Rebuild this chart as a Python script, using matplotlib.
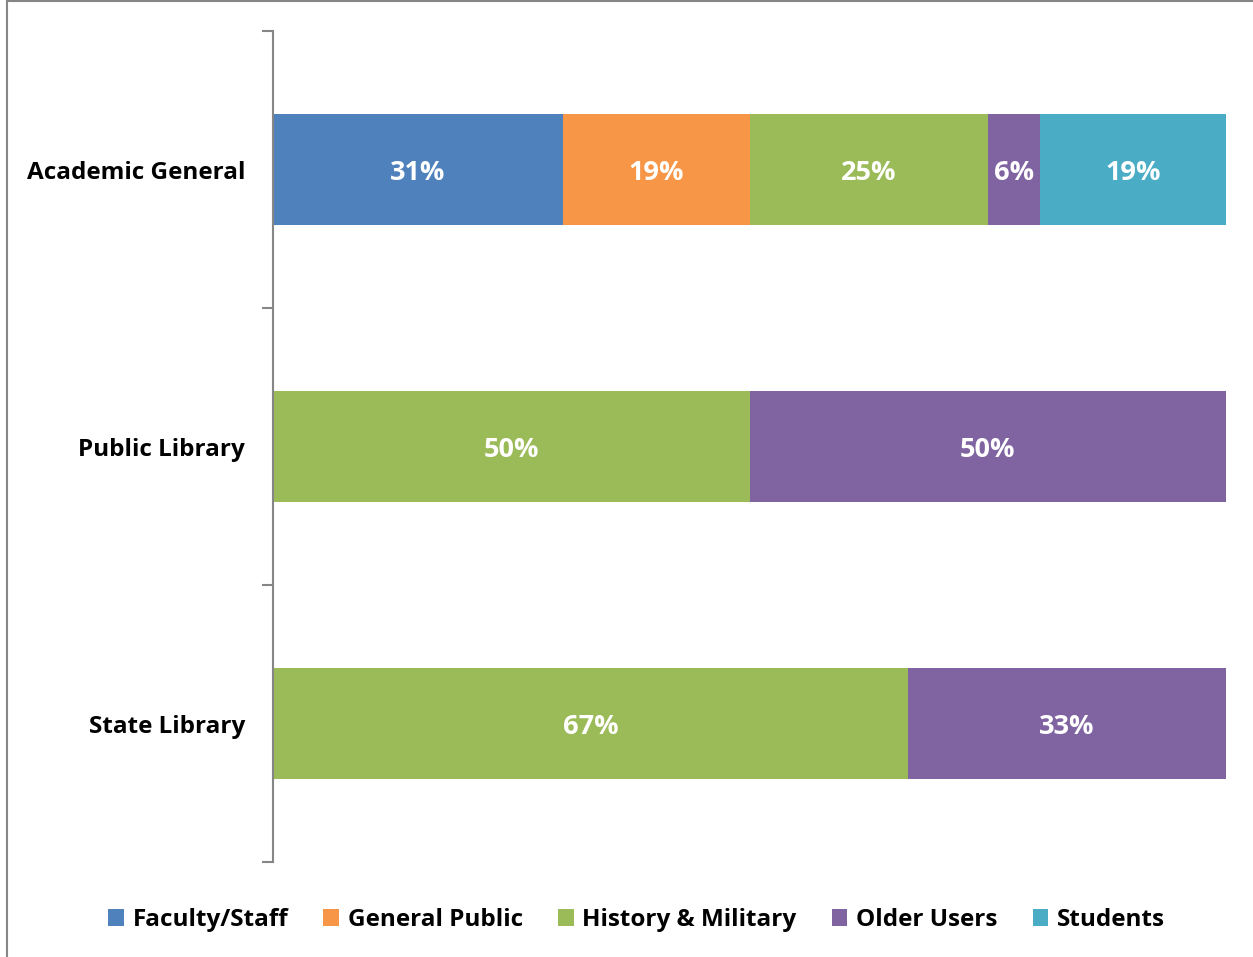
import matplotlib.pyplot as plt
import numpy as np
from matplotlib.patches import Patch, Rectangle

plt.rcParams["font.family"] = ["Open Sans", "DejaVu Sans"]
plt.rcParams["font.weight"] = "bold"

# Data (bar lengths, labels as printed)
categories = ["Academic General", "Public Library", "State Library"]
series = ["Faculty/Staff", "General Public", "History & Military", "Older Users", "Students"]
faculty_staff = [30.4, 0, 0]
general_public = [19.6, 0, 0]
history_military = [25.0, 50, 66.6]
older_users = [5.5, 50, 33.4]
students = [19.5, 0, 0]
faculty_staff_lbl = ["31%", "", ""]
general_public_lbl = ["19%", "", ""]
history_military_lbl = ["25%", "50%", "67%"]
older_users_lbl = ["6%", "50%", "33%"]
students_lbl = ["19%", "", ""]
colors = ["#4F81BD", "#F79646", "#9BBB59", "#8064A2", "#4BACC6"]

values = [faculty_staff, general_public, history_military, older_users, students]
labels = [faculty_staff_lbl, general_public_lbl, history_military_lbl, older_users_lbl, students_lbl]

fig = plt.figure(figsize=(12.53, 9.57), dpi=100)
ax = fig.add_axes([273 / 1253, 1 - 862 / 957, (1226 - 273) / 1253, (862 - 31) / 957])

y = np.arange(len(categories))
left = np.zeros(len(categories))
for vals, lbls, name, col in zip(values, labels, series, colors):
    vals = np.array(vals, dtype=float)
    ax.barh(y, vals, left=left, height=0.404, color=col, label=name)
    for yi, (v, l, t) in enumerate(zip(vals, left, lbls)):
        if t:
            ax.text(l + v / 2, yi, t, ha="center", va="center_baseline",
                    color="white", fontsize=19.5, fontweight="bold")
    left += vals

ax.set_xlim(0, 100)
ax.set_ylim(2.5, -0.5)
ax.set_yticks(y)
ax.set_yticklabels(categories, fontsize=17.5, fontweight="bold")
ax.set_yticks([-0.5, 0.5, 1.5, 2.5], minor=True)
ax.tick_params(axis="y", which="major", length=0, pad=20)
ax.tick_params(axis="y", which="minor", length=8, width=1.5, color="#868686")
ax.set_xticks([])
for s in ["top", "right", "bottom"]:
    ax.spines[s].set_visible(False)
ax.spines["left"].set_color("#868686")
ax.spines["left"].set_linewidth(1.5)

handles = [Patch(facecolor=c, edgecolor="none") for c in colors]
fig.legend(handles, series, loc="center", bbox_to_anchor=(0.508, 1 - 920 / 957),
           ncol=5, frameon=False, prop={"size": 17.5, "weight": "bold"},
           handlelength=0.65, handleheight=0.65, handletextpad=0.35, columnspacing=1.45)

# outer chart border (cropped on right and bottom)
fig.patches.append(Rectangle((7 / 1253, -0.05), 1.1, 1 - 1.5 / 957 + 0.05,
                             transform=fig.transFigure, fill=False,
                             edgecolor="#868686", linewidth=1.5))

fig.savefig("out.png", dpi=100)
